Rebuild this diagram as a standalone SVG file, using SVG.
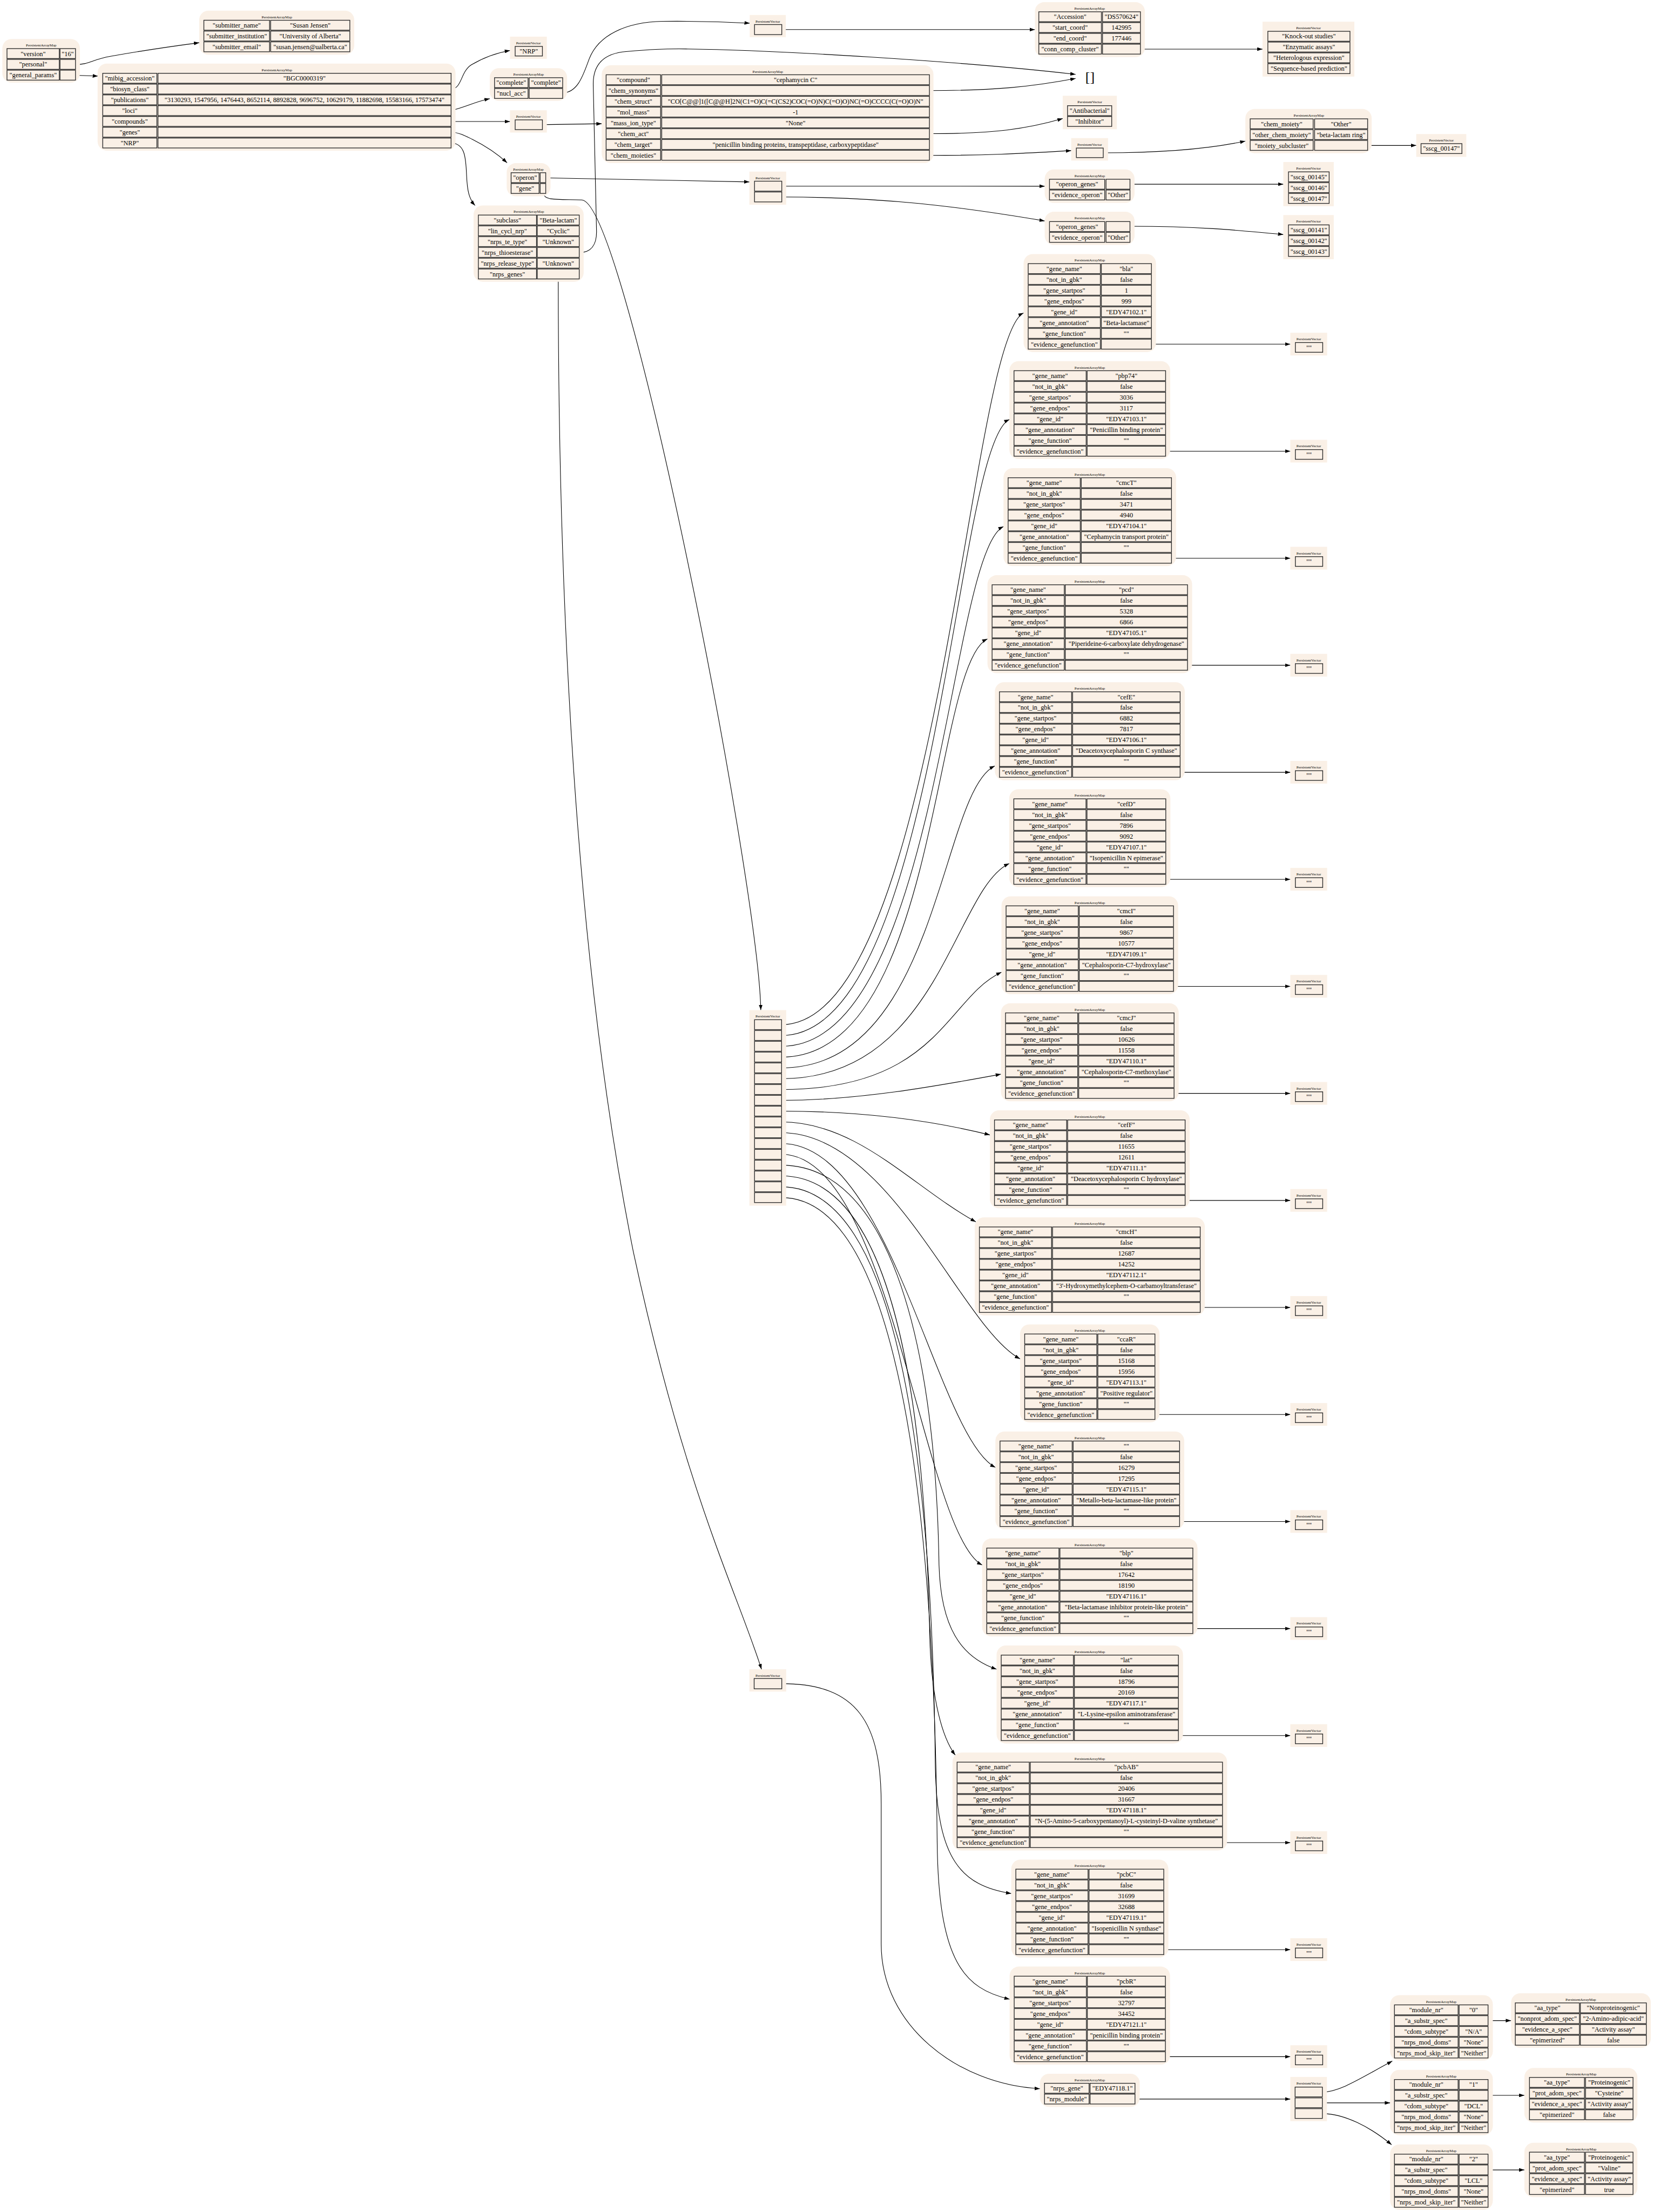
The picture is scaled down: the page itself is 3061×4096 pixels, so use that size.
<svg xmlns="http://www.w3.org/2000/svg" width="3061" height="4096" viewBox="0 0 3061 4096">
<style>
.nb{fill:#faf0e6}
.c{fill:#faf0e6;stroke:#2b2b2b;stroke-width:2}
.t{font-family:"Liberation Serif","Times New Roman",serif;font-size:18px;text-anchor:middle;fill:#000}
.h{font-family:"Liberation Serif","Times New Roman",serif;font-size:10.3px;text-anchor:middle;fill:#000}
.e{fill:none;stroke:#000;stroke-width:1.6;marker-end:url(#ah)}
.br{font-family:"Liberation Serif","Times New Roman",serif;font-size:38px;text-anchor:middle;fill:#000}
</style>
<defs>
<marker id="ah" markerUnits="userSpaceOnUse" viewBox="0 0 14.4 10" markerWidth="14.4" markerHeight="10" refX="14.4" refY="5" orient="auto"><path d="M0,0 L14.4,5 L0,10 z" fill="#000"/></marker>
</defs>
<rect width="3061" height="4096" fill="#fff"/>
<g transform="scale(0.6819)">

<g id="edges">
<path class="e" d="M205,175.5 C240,175.5 250,162 300,153 C400,135 480,124 541,116"/>
<path class="e" d="M205,204.6 L266,206.5"/>
<path class="e" d="M1225,242 C1255,241 1250,195 1280,176 C1310,158 1340,145 1385,137"/>
<path class="e" d="M1225,300 C1262,292 1290,276 1330,268"/>
<path class="e" d="M1225,330 L1385,330"/>
<path class="e" d="M1225,359 C1248,360 1262,368 1282,378 C1320,397 1350,417 1377,442"/>
<path class="e" d="M1225,388 C1262,390 1265,425 1267,475 C1269,520 1274,540 1290,558"/>
<path class="e" d="M1528,252 C1570,252 1585,200 1600,160 C1625,95 1700,60 1800,58 C1900,57 1980,60 2036,63"/>
<path class="e" d="M1573,686 C1605,686 1620,665 1620,630 L1611,230 C1610,175 1640,145 1700,140 C1760,135 1800,132 1868,133 C2100,136 2600,165 2921,202"/>
<path class="e" d="M1516,758 C1516,1600 1560,2600 1720,3400 C1860,4050 2000,4320 2068,4533"/>
<path class="e" d="M1482,483 C1700,487 1900,491 2035,494"/>
<path class="e" d="M1477,527 C1477,545 1520,541 1580,543 C1700,550 2060,2400 2066,2743"/>
<path class="e" d="M1473,338.5 L1634,336"/>
<path class="e" d="M2524,246 C2700,246 2800,236 2921,213"/>
<path class="e" d="M2524,363 C2700,363 2790,350 2886,322"/>
<path class="e" d="M2524,422 C2700,422 2800,415 2909,409"/>
<path class="e" d="M2123,80.4 L2810.5,80.4"/>
<path class="e" d="M3097,133.4 L3428.5,133.4"/>
<path class="e" d="M2996,415 C3150,415 3280,405 3382,383"/>
<path class="e" d="M3714,395 L3846,395"/>
<path class="e" d="M2123,505.5 L2837,505.7"/>
<path class="e" d="M2123,535 C2400,535 2600,560 2837,600"/>
<path class="e" d="M3068.6,500.2 L3485,500.2"/>
<path class="e" d="M3068.6,614.5 C3250,614.5 3350,624 3485,637"/>
<path class="e" d="M2122.5,2782.5 C2550,2782.5 2629.7,920 2779.7,850"/>
<path class="e" d="M2122.5,2811.9 C2550,2811.9 2591.2,1209 2741.2,1139"/>
<path class="e" d="M2122.5,2841.2 C2550,2841.2 2575.2,1500 2725.2,1430"/>
<path class="e" d="M2122.5,2870.6 C2550,2870.6 2531.7,1805 2681.7,1735"/>
<path class="e" d="M2122.5,2899.9 C2550,2899.9 2551.7,2150 2701.7,2080"/>
<path class="e" d="M2122.5,2929.3 C2550,2929.3 2590.7,2415 2740.7,2345"/>
<path class="e" d="M2122.5,2958.6 C2550,2958.6 2569.7,2710 2719.7,2640"/>
<path class="e" d="M2122.5,2988 C2330,2988 2540,2950 2718.2,2917"/>
<path class="e" d="M2122.5,3017.3 C2330,3017.3 2520,3040 2688.2,3082"/>
<path class="e" d="M2122.5,3046.7 C2330,3046.7 2480,3225 2650,3318"/>
<path class="e" d="M2122.5,3076 C2420,3076 2610.2,3605 2770.2,3690"/>
<path class="e" d="M2122.5,3105.4 C2420,3105.4 2543.2,3900 2703.2,3985"/>
<path class="e" d="M2122.5,3134.7 C2420,3134.7 2507.2,4165 2667.2,4250"/>
<path class="e" d="M2122.5,3164.1 C2400,3164.1 2540,3600 2550,4250 C2555,4420 2610,4500 2706.4,4533"/>
<path class="e" d="M2122.5,3193.4 C2400,3193.4 2510,3700 2525,4450 C2530,4620 2560,4720 2594,4766"/>
<path class="e" d="M2122.5,3222.8 C2400,3222.8 2530,3800 2540,4800 C2545,5050 2610,5120 2746.2,5142"/>
<path class="e" d="M2122.5,3252.1 C2400,3252.1 2535,3900 2545,5000 C2548,5330 2620,5400 2741.7,5429"/>
<path class="e" d="M3126.85,934.6 L3504,934.6"/>
<path class="e" d="M3165.35,1225.25 L3504,1225.25"/>
<path class="e" d="M3181.35,1515.9 L3504,1515.9"/>
<path class="e" d="M3224.85,1806.55 L3504,1806.55"/>
<path class="e" d="M3204.85,2097.2 L3504,2097.2"/>
<path class="e" d="M3165.85,2387.85 L3504,2387.85"/>
<path class="e" d="M3186.85,2678.5 L3504,2678.5"/>
<path class="e" d="M3188.35,2969.15 L3504,2969.15"/>
<path class="e" d="M3218.35,3259.8 L3504,3259.8"/>
<path class="e" d="M3259.35,3550.45 L3504,3550.45"/>
<path class="e" d="M3136.35,3841.1 L3504,3841.1"/>
<path class="e" d="M3203.35,4131.75 L3504,4131.75"/>
<path class="e" d="M3239.35,4422.4 L3504,4422.4"/>
<path class="e" d="M3200.1,4713.05 L3504,4713.05"/>
<path class="e" d="M3319.85,5003.7 L3504,5003.7"/>
<path class="e" d="M3160.35,5294.35 L3504,5294.35"/>
<path class="e" d="M3164.85,5585 L3504,5585"/>
<path class="e" d="M2123,4572 C2330,4572 2393,4680 2393,4900 L2393,5279 C2393,5500 2600,5660 2824,5672"/>
<path class="e" d="M3082.2,5700 L3504,5700"/>
<path class="e" d="M3591,5681 C3640,5681 3700,5640 3781,5597"/>
<path class="e" d="M3591,5710.3 L3775,5710.3"/>
<path class="e" d="M3591,5739.6 C3650,5739.6 3720,5775 3779,5824"/>
<path class="e" d="M4041,5487 L4103.5,5487"/>
<path class="e" d="M4041,5690 L4139.6,5690"/>
<path class="e" d="M4041,5892.5 L4139.6,5892.5"/>
</g>

<g id="root">
<rect class="nb" x="6.4" y="106" width="210.6" height="118.5" rx="25"/>
<text class="h" x="112" y="126.5">PersistentArrayMap</text>
<rect class="c" x="19" y="132" width="142" height="27"/><text class="t" x="90" y="151.8">"version"</text>
<rect class="c" x="163" y="132" width="42" height="27"/><text class="t" x="184" y="151.8">"16"</text>
<rect class="c" x="19" y="161.3" width="142" height="27"/><text class="t" x="90" y="181.1">"personal"</text>
<rect class="c" x="163" y="161.3" width="42" height="27"/>
<rect class="c" x="19" y="190.6" width="142" height="27"/><text class="t" x="90" y="210.4">"general_params"</text>
<rect class="c" x="163" y="190.6" width="42" height="27"/>
</g>

<g id="personal">
<rect class="nb" x="541" y="29" width="421" height="119.6" rx="25"/>
<text class="h" x="751.8" y="49.5">PersistentArrayMap</text>
<rect class="c" x="553.6" y="55" width="178.4" height="27"/><text class="t" x="642.8" y="74.8">"submitter_name"</text>
<rect class="c" x="735" y="55" width="215" height="27"/><text class="t" x="842.5" y="74.8">"Susan Jensen"</text>
<rect class="c" x="553.6" y="84.3" width="178.4" height="27"/><text class="t" x="642.8" y="104.1">"submitter_institution"</text>
<rect class="c" x="735" y="84.3" width="215" height="27"/><text class="t" x="842.5" y="104.1">"University of Alberta"</text>
<rect class="c" x="553.6" y="113.6" width="178.4" height="27"/><text class="t" x="642.8" y="133.4">"submitter_email"</text>
<rect class="c" x="735" y="113.6" width="215" height="27"/><text class="t" x="842.5" y="133.4">"susan.jensen@ualberta.ca"</text>
</g>

<g id="general_params">
<rect class="nb" x="265" y="172.7" width="972" height="236.3" rx="25"/>
<text class="h" x="752" y="193.2">PersistentArrayMap</text>
<rect class="c" x="279" y="199" width="147" height="27"/><text class="t" x="352.5" y="218.8">"mibig_accession"</text>
<rect class="c" x="429" y="199" width="796" height="27"/><text class="t" x="827" y="218.8">"BGC0000319"</text>
<rect class="c" x="279" y="228.3" width="147" height="27"/><text class="t" x="352.5" y="248.1">"biosyn_class"</text>
<rect class="c" x="429" y="228.3" width="796" height="27"/>
<rect class="c" x="279" y="257.6" width="147" height="27"/><text class="t" x="352.5" y="277.4">"publications"</text>
<rect class="c" x="429" y="257.6" width="796" height="27"/><text class="t" x="827" y="277.4">"3130293, 1547956, 1476443, 8652114, 8892828, 9696752, 10629179, 11882698, 15583166, 17573474"</text>
<rect class="c" x="279" y="286.9" width="147" height="27"/><text class="t" x="352.5" y="306.7">"loci"</text>
<rect class="c" x="429" y="286.9" width="796" height="27"/>
<rect class="c" x="279" y="316.2" width="147" height="27"/><text class="t" x="352.5" y="336">"compounds"</text>
<rect class="c" x="429" y="316.2" width="796" height="27"/>
<rect class="c" x="279" y="345.5" width="147" height="27"/><text class="t" x="352.5" y="365.3">"genes"</text>
<rect class="c" x="429" y="345.5" width="796" height="27"/>
<rect class="c" x="279" y="374.8" width="147" height="27"/><text class="t" x="352.5" y="394.6">"NRP"</text>
<rect class="c" x="429" y="374.8" width="796" height="27"/>
</g>

<g id="biosyn_class">
<rect class="nb" x="1385" y="99.5" width="100" height="60.5"/>
<text class="h" x="1435" y="120">PersistentVector</text>
<rect class="c" x="1399" y="126" width="74" height="26"/><text class="t" x="1436" y="145.3">"NRP"</text>
</g>

<g id="loci">
<rect class="nb" x="1330" y="185" width="210" height="89" rx="25"/>
<text class="h" x="1435.5" y="205.5">PersistentArrayMap</text>
<rect class="c" x="1343" y="211" width="91" height="27"/><text class="t" x="1388.5" y="230.8">"complete"</text>
<rect class="c" x="1437" y="211" width="91" height="27"/><text class="t" x="1482.5" y="230.8">"complete"</text>
<rect class="c" x="1343" y="240.3" width="91" height="27"/><text class="t" x="1388.5" y="260.1">"nucl_acc"</text>
<rect class="c" x="1437" y="240.3" width="91" height="27"/>
</g>

<g id="compounds_list">
<rect class="nb" x="1385" y="299.5" width="100" height="60.5"/>
<text class="h" x="1435" y="320">PersistentVector</text>
<rect class="c" x="1399" y="325.5" width="74" height="26.5"/>
</g>

<g id="genes">
<rect class="nb" x="1376" y="443" width="119" height="90" rx="25"/>
<text class="h" x="1435" y="463.5">PersistentArrayMap</text>
<rect class="c" x="1388" y="469" width="76" height="27"/><text class="t" x="1426" y="488.8">"operon"</text>
<rect class="c" x="1467" y="469" width="15" height="27"/>
<rect class="c" x="1388" y="498.3" width="76" height="27"/><text class="t" x="1426" y="518.1">"gene"</text>
<rect class="c" x="1467" y="498.3" width="15" height="27"/>
</g>

<g id="nrp">
<rect class="nb" x="1286" y="558" width="299" height="207" rx="25"/>
<text class="h" x="1436" y="578.5">PersistentArrayMap</text>
<rect class="c" x="1299" y="584" width="158" height="27"/><text class="t" x="1378" y="603.8">"subclass"</text>
<rect class="c" x="1459" y="584" width="114" height="27"/><text class="t" x="1516" y="603.8">"Beta-lactam"</text>
<rect class="c" x="1299" y="613.3" width="158" height="27"/><text class="t" x="1378" y="633.1">"lin_cycl_nrp"</text>
<rect class="c" x="1459" y="613.3" width="114" height="27"/><text class="t" x="1516" y="633.1">"Cyclic"</text>
<rect class="c" x="1299" y="642.6" width="158" height="27"/><text class="t" x="1378" y="662.4">"nrps_te_type"</text>
<rect class="c" x="1459" y="642.6" width="114" height="27"/><text class="t" x="1516" y="662.4">"Unknown"</text>
<rect class="c" x="1299" y="671.9" width="158" height="27"/><text class="t" x="1378" y="691.7">"nrps_thioesterase"</text>
<rect class="c" x="1459" y="671.9" width="114" height="27"/>
<rect class="c" x="1299" y="701.2" width="158" height="27"/><text class="t" x="1378" y="721">"nrps_release_type"</text>
<rect class="c" x="1459" y="701.2" width="114" height="27"/><text class="t" x="1516" y="721">"Unknown"</text>
<rect class="c" x="1299" y="730.5" width="158" height="27"/><text class="t" x="1378" y="750.3">"nrps_genes"</text>
<rect class="c" x="1459" y="730.5" width="114" height="27"/>
</g>

<g id="compound">
<rect class="nb" x="1634" y="177" width="901" height="266" rx="25"/>
<text class="h" x="2085" y="197.5">PersistentArrayMap</text>
<rect class="c" x="1646" y="203" width="148" height="27"/><text class="t" x="1720" y="222.8">"compound"</text>
<rect class="c" x="1797" y="203" width="727" height="27"/><text class="t" x="2160.5" y="222.8">"cephamycin C"</text>
<rect class="c" x="1646" y="232.3" width="148" height="27"/><text class="t" x="1720" y="252.1">"chem_synonyms"</text>
<rect class="c" x="1797" y="232.3" width="727" height="27"/>
<rect class="c" x="1646" y="261.6" width="148" height="27"/><text class="t" x="1720" y="281.4">"chem_struct"</text>
<rect class="c" x="1797" y="261.6" width="727" height="27"/><text class="t" x="2160.5" y="281.4">"CO[C@@]1([C@@H]2N(C1=O)C(=C(CS2)COC(=O)N)C(=O)O)NC(=O)CCCC(C(=O)O)N"</text>
<rect class="c" x="1646" y="290.9" width="148" height="27"/><text class="t" x="1720" y="310.7">"mol_mass"</text>
<rect class="c" x="1797" y="290.9" width="727" height="27"/><text class="t" x="2160.5" y="310.7">-1</text>
<rect class="c" x="1646" y="320.2" width="148" height="27"/><text class="t" x="1720" y="340">"mass_ion_type"</text>
<rect class="c" x="1797" y="320.2" width="727" height="27"/><text class="t" x="2160.5" y="340">"None"</text>
<rect class="c" x="1646" y="349.5" width="148" height="27"/><text class="t" x="1720" y="369.3">"chem_act"</text>
<rect class="c" x="1797" y="349.5" width="727" height="27"/>
<rect class="c" x="1646" y="378.8" width="148" height="27"/><text class="t" x="1720" y="398.6">"chem_target"</text>
<rect class="c" x="1797" y="378.8" width="727" height="27"/><text class="t" x="2160.5" y="398.6">"penicillin binding proteins, transpeptidase, carboxypeptidase"</text>
<rect class="c" x="1646" y="408.1" width="148" height="27"/><text class="t" x="1720" y="427.9">"chem_moieties"</text>
<rect class="c" x="1797" y="408.1" width="727" height="27"/>
</g>

<g id="loci_list">
<rect class="nb" x="2036" y="40.7" width="98" height="60.3"/>
<text class="h" x="2085" y="61.2">PersistentVector</text>
<rect class="c" x="2049" y="66.7" width="74" height="27.3"/>
</g>

<g id="accession">
<rect class="nb" x="2810.5" y="6" width="298.5" height="149" rx="25"/>
<text class="h" x="2959" y="26.5">PersistentArrayMap</text>
<rect class="c" x="2821" y="32" width="170" height="27"/><text class="t" x="2906" y="51.8">"Accession"</text>
<rect class="c" x="2994" y="32" width="103" height="27"/><text class="t" x="3045.5" y="51.8">"DS570624"</text>
<rect class="c" x="2821" y="61.3" width="170" height="27"/><text class="t" x="2906" y="81.1">"start_coord"</text>
<rect class="c" x="2994" y="61.3" width="103" height="27"/><text class="t" x="3045.5" y="81.1">142995</text>
<rect class="c" x="2821" y="90.6" width="170" height="27"/><text class="t" x="2906" y="110.4">"end_coord"</text>
<rect class="c" x="2994" y="90.6" width="103" height="27"/><text class="t" x="3045.5" y="110.4">177446</text>
<rect class="c" x="2821" y="119.9" width="170" height="27"/><text class="t" x="2906" y="139.7">"conn_comp_cluster"</text>
<rect class="c" x="2994" y="119.9" width="103" height="27"/>
</g>

<g id="loci_evidence">
<rect class="nb" x="3428.5" y="59" width="249.5" height="149"/>
<text class="h" x="3553.3" y="79.5">PersistentVector</text>
<rect class="c" x="3443" y="85" width="223" height="27"/><text class="t" x="3554.5" y="104.8">"Knock-out studies"</text>
<rect class="c" x="3443" y="114.3" width="223" height="27"/><text class="t" x="3554.5" y="134.1">"Enzymatic assays"</text>
<rect class="c" x="3443" y="143.6" width="223" height="27"/><text class="t" x="3554.5" y="163.4">"Heterologous expression"</text>
<rect class="c" x="3443" y="172.9" width="223" height="27"/><text class="t" x="3554.5" y="192.7">"Sequence-based prediction"</text>
</g>

<g id="empty_list">
<text class="br" x="2960" y="221">[]</text>
</g>

<g id="chem_act">
<rect class="nb" x="2886" y="260" width="147" height="91"/>
<text class="h" x="2959.5" y="280.5">PersistentVector</text>
<rect class="c" x="2899" y="287" width="120" height="27"/><text class="t" x="2959" y="306.8">"Antibacterial"</text>
<rect class="c" x="2899" y="316.3" width="120" height="27"/><text class="t" x="2959" y="336.1">"Inhibitor"</text>
</g>

<g id="chem_moieties">
<rect class="nb" x="2909" y="375" width="100" height="61"/>
<text class="h" x="2959" y="395.5">PersistentVector</text>
<rect class="c" x="2923" y="402" width="73" height="26"/>
</g>

<g id="chem_moiety">
<rect class="nb" x="3382" y="296" width="343" height="120" rx="25"/>
<text class="h" x="3554.5" y="316.5">PersistentArrayMap</text>
<rect class="c" x="3395" y="322.7" width="171" height="27"/><text class="t" x="3480.5" y="342.5">"chem_moiety"</text>
<rect class="c" x="3570" y="322.7" width="144" height="27"/><text class="t" x="3642" y="342.5">"Other"</text>
<rect class="c" x="3395" y="352" width="171" height="27"/><text class="t" x="3480.5" y="371.8">"other_chem_moiety"</text>
<rect class="c" x="3570" y="352" width="144" height="27"/><text class="t" x="3642" y="371.8">"beta-lactam ring"</text>
<rect class="c" x="3395" y="381.3" width="171" height="27"/><text class="t" x="3480.5" y="401.1">"moiety_subcluster"</text>
<rect class="c" x="3570" y="381.3" width="144" height="27"/>
</g>

<g id="moiety_subcluster">
<rect class="nb" x="3846" y="364" width="136" height="62"/>
<text class="h" x="3914" y="384.5">PersistentVector</text>
<rect class="c" x="3859" y="390" width="111" height="27"/><text class="t" x="3914.5" y="409.8">"sscg_00147"</text>
</g>

<g id="operon_list">
<rect class="nb" x="2035" y="466" width="100" height="90"/>
<text class="h" x="2085" y="486.5">PersistentVector</text>
<rect class="c" x="2049" y="492" width="74" height="27"/>
<rect class="c" x="2049" y="521.3" width="74" height="27"/>
</g>

<g id="operon1">
<rect class="nb" x="2837" y="460" width="244" height="91" rx="25"/>
<text class="h" x="2959.3" y="480.5">PersistentArrayMap</text>
<rect class="c" x="2850" y="486.7" width="150" height="27"/><text class="t" x="2925" y="506.5">"operon_genes"</text>
<rect class="c" x="3003.6" y="486.7" width="65" height="27"/>
<rect class="c" x="2850" y="516" width="150" height="27"/><text class="t" x="2925" y="535.8">"evidence_operon"</text>
<rect class="c" x="3003.6" y="516" width="65" height="27"/><text class="t" x="3036.1" y="535.8">"Other"</text>
</g>

<g id="operon2">
<rect class="nb" x="2837" y="575" width="244" height="90" rx="25"/>
<text class="h" x="2959.3" y="595.5">PersistentArrayMap</text>
<rect class="c" x="2850" y="601.7" width="150" height="27"/><text class="t" x="2925" y="621.5">"operon_genes"</text>
<rect class="c" x="3003.6" y="601.7" width="65" height="27"/>
<rect class="c" x="2850" y="631" width="150" height="27"/><text class="t" x="2925" y="650.8">"evidence_operon"</text>
<rect class="c" x="3003.6" y="631" width="65" height="27"/><text class="t" x="3036.1" y="650.8">"Other"</text>
</g>

<g id="operon_genes1">
<rect class="nb" x="3485" y="440" width="137" height="120"/>
<text class="h" x="3553.5" y="460.5">PersistentVector</text>
<rect class="c" x="3499" y="466.7" width="110.5" height="27"/><text class="t" x="3554.25" y="486.5">"sscg_00145"</text>
<rect class="c" x="3499" y="496" width="110.5" height="27"/><text class="t" x="3554.25" y="515.8">"sscg_00146"</text>
<rect class="c" x="3499" y="525.3" width="110.5" height="27"/><text class="t" x="3554.25" y="545.1">"sscg_00147"</text>
</g>

<g id="operon_genes2">
<rect class="nb" x="3485" y="584" width="137" height="120"/>
<text class="h" x="3553.5" y="604.5">PersistentVector</text>
<rect class="c" x="3499" y="610.7" width="110.5" height="27"/><text class="t" x="3554.25" y="630.5">"sscg_00141"</text>
<rect class="c" x="3499" y="640" width="110.5" height="27"/><text class="t" x="3554.25" y="659.8">"sscg_00142"</text>
<rect class="c" x="3499" y="669.3" width="110.5" height="27"/><text class="t" x="3554.25" y="689.1">"sscg_00143"</text>
</g>

<g id="gene_list">
<rect class="nb" x="2035" y="2743" width="100" height="531"/>
<text class="h" x="2085" y="2763.5">PersistentVector</text>
<rect class="c" x="2049" y="2769" width="73.5" height="27"/>
<rect class="c" x="2049" y="2798.35" width="73.5" height="27"/>
<rect class="c" x="2049" y="2827.7" width="73.5" height="27"/>
<rect class="c" x="2049" y="2857.05" width="73.5" height="27"/>
<rect class="c" x="2049" y="2886.4" width="73.5" height="27"/>
<rect class="c" x="2049" y="2915.75" width="73.5" height="27"/>
<rect class="c" x="2049" y="2945.1" width="73.5" height="27"/>
<rect class="c" x="2049" y="2974.45" width="73.5" height="27"/>
<rect class="c" x="2049" y="3003.8" width="73.5" height="27"/>
<rect class="c" x="2049" y="3033.15" width="73.5" height="27"/>
<rect class="c" x="2049" y="3062.5" width="73.5" height="27"/>
<rect class="c" x="2049" y="3091.85" width="73.5" height="27"/>
<rect class="c" x="2049" y="3121.2" width="73.5" height="27"/>
<rect class="c" x="2049" y="3150.55" width="73.5" height="27"/>
<rect class="c" x="2049" y="3179.9" width="73.5" height="27"/>
<rect class="c" x="2049" y="3209.25" width="73.5" height="27"/>
<rect class="c" x="2049" y="3238.6" width="73.5" height="27"/>
</g>

<g id="gene_bla" transform="translate(0,690)">
<rect class="nb" x="2779.65" width="359.7" height="266" rx="25"/>
<text class="h" x="2959.5" y="20.5">PersistentArrayMap</text>
<rect class="c" x="2792.15" y="26" width="196" height="27"/><text class="t" x="2890.15" y="45.8">"gene_name"</text>
<rect class="c" x="2990.85" y="26" width="136" height="27"/><text class="t" x="3058.85" y="45.8">"bla"</text>
<rect class="c" x="2792.15" y="55.3" width="196" height="27"/><text class="t" x="2890.15" y="75.1">"not_in_gbk"</text>
<rect class="c" x="2990.85" y="55.3" width="136" height="27"/><text class="t" x="3058.85" y="75.1">false</text>
<rect class="c" x="2792.15" y="84.6" width="196" height="27"/><text class="t" x="2890.15" y="104.4">"gene_startpos"</text>
<rect class="c" x="2990.85" y="84.6" width="136" height="27"/><text class="t" x="3058.85" y="104.4">1</text>
<rect class="c" x="2792.15" y="113.9" width="196" height="27"/><text class="t" x="2890.15" y="133.7">"gene_endpos"</text>
<rect class="c" x="2990.85" y="113.9" width="136" height="27"/><text class="t" x="3058.85" y="133.7">999</text>
<rect class="c" x="2792.15" y="143.2" width="196" height="27"/><text class="t" x="2890.15" y="163">"gene_id"</text>
<rect class="c" x="2990.85" y="143.2" width="136" height="27"/><text class="t" x="3058.85" y="163">"EDY47102.1"</text>
<rect class="c" x="2792.15" y="172.5" width="196" height="27"/><text class="t" x="2890.15" y="192.3">"gene_annotation"</text>
<rect class="c" x="2990.85" y="172.5" width="136" height="27"/><text class="t" x="3058.85" y="192.3">"Beta-lactamase"</text>
<rect class="c" x="2792.15" y="201.8" width="196" height="27"/><text class="t" x="2890.15" y="221.6">"gene_function"</text>
<rect class="c" x="2990.85" y="201.8" width="136" height="27"/><text class="t" x="3058.85" y="221.6">""</text>
<rect class="c" x="2792.15" y="231.1" width="196" height="27"/><text class="t" x="2890.15" y="250.9">"evidence_genefunction"</text>
<rect class="c" x="2990.85" y="231.1" width="136" height="27"/>
</g>

<g id="gene_pbp74" transform="translate(0,980.65)">
<rect class="nb" x="2741.15" width="436.7" height="266" rx="25"/>
<text class="h" x="2959.5" y="20.5">PersistentArrayMap</text>
<rect class="c" x="2753.65" y="26" width="196" height="27"/><text class="t" x="2851.65" y="45.8">"gene_name"</text>
<rect class="c" x="2952.35" y="26" width="213" height="27"/><text class="t" x="3058.85" y="45.8">"pbp74"</text>
<rect class="c" x="2753.65" y="55.3" width="196" height="27"/><text class="t" x="2851.65" y="75.1">"not_in_gbk"</text>
<rect class="c" x="2952.35" y="55.3" width="213" height="27"/><text class="t" x="3058.85" y="75.1">false</text>
<rect class="c" x="2753.65" y="84.6" width="196" height="27"/><text class="t" x="2851.65" y="104.4">"gene_startpos"</text>
<rect class="c" x="2952.35" y="84.6" width="213" height="27"/><text class="t" x="3058.85" y="104.4">3036</text>
<rect class="c" x="2753.65" y="113.9" width="196" height="27"/><text class="t" x="2851.65" y="133.7">"gene_endpos"</text>
<rect class="c" x="2952.35" y="113.9" width="213" height="27"/><text class="t" x="3058.85" y="133.7">3117</text>
<rect class="c" x="2753.65" y="143.2" width="196" height="27"/><text class="t" x="2851.65" y="163">"gene_id"</text>
<rect class="c" x="2952.35" y="143.2" width="213" height="27"/><text class="t" x="3058.85" y="163">"EDY47103.1"</text>
<rect class="c" x="2753.65" y="172.5" width="196" height="27"/><text class="t" x="2851.65" y="192.3">"gene_annotation"</text>
<rect class="c" x="2952.35" y="172.5" width="213" height="27"/><text class="t" x="3058.85" y="192.3">"Penicillin binding protein"</text>
<rect class="c" x="2753.65" y="201.8" width="196" height="27"/><text class="t" x="2851.65" y="221.6">"gene_function"</text>
<rect class="c" x="2952.35" y="201.8" width="213" height="27"/><text class="t" x="3058.85" y="221.6">""</text>
<rect class="c" x="2753.65" y="231.1" width="196" height="27"/><text class="t" x="2851.65" y="250.9">"evidence_genefunction"</text>
<rect class="c" x="2952.35" y="231.1" width="213" height="27"/>
</g>

<g id="gene_cmcT" transform="translate(0,1271.3)">
<rect class="nb" x="2725.15" width="468.7" height="266" rx="25"/>
<text class="h" x="2959.5" y="20.5">PersistentArrayMap</text>
<rect class="c" x="2737.65" y="26" width="196" height="27"/><text class="t" x="2835.65" y="45.8">"gene_name"</text>
<rect class="c" x="2936.35" y="26" width="245" height="27"/><text class="t" x="3058.85" y="45.8">"cmcT"</text>
<rect class="c" x="2737.65" y="55.3" width="196" height="27"/><text class="t" x="2835.65" y="75.1">"not_in_gbk"</text>
<rect class="c" x="2936.35" y="55.3" width="245" height="27"/><text class="t" x="3058.85" y="75.1">false</text>
<rect class="c" x="2737.65" y="84.6" width="196" height="27"/><text class="t" x="2835.65" y="104.4">"gene_startpos"</text>
<rect class="c" x="2936.35" y="84.6" width="245" height="27"/><text class="t" x="3058.85" y="104.4">3471</text>
<rect class="c" x="2737.65" y="113.9" width="196" height="27"/><text class="t" x="2835.65" y="133.7">"gene_endpos"</text>
<rect class="c" x="2936.35" y="113.9" width="245" height="27"/><text class="t" x="3058.85" y="133.7">4940</text>
<rect class="c" x="2737.65" y="143.2" width="196" height="27"/><text class="t" x="2835.65" y="163">"gene_id"</text>
<rect class="c" x="2936.35" y="143.2" width="245" height="27"/><text class="t" x="3058.85" y="163">"EDY47104.1"</text>
<rect class="c" x="2737.65" y="172.5" width="196" height="27"/><text class="t" x="2835.65" y="192.3">"gene_annotation"</text>
<rect class="c" x="2936.35" y="172.5" width="245" height="27"/><text class="t" x="3058.85" y="192.3">"Cephamycin transport protein"</text>
<rect class="c" x="2737.65" y="201.8" width="196" height="27"/><text class="t" x="2835.65" y="221.6">"gene_function"</text>
<rect class="c" x="2936.35" y="201.8" width="245" height="27"/><text class="t" x="3058.85" y="221.6">""</text>
<rect class="c" x="2737.65" y="231.1" width="196" height="27"/><text class="t" x="2835.65" y="250.9">"evidence_genefunction"</text>
<rect class="c" x="2936.35" y="231.1" width="245" height="27"/>
</g>

<g id="gene_pcd" transform="translate(0,1561.95)">
<rect class="nb" x="2681.65" width="555.7" height="266" rx="25"/>
<text class="h" x="2959.5" y="20.5">PersistentArrayMap</text>
<rect class="c" x="2694.15" y="26" width="196" height="27"/><text class="t" x="2792.15" y="45.8">"gene_name"</text>
<rect class="c" x="2892.85" y="26" width="332" height="27"/><text class="t" x="3058.85" y="45.8">"pcd"</text>
<rect class="c" x="2694.15" y="55.3" width="196" height="27"/><text class="t" x="2792.15" y="75.1">"not_in_gbk"</text>
<rect class="c" x="2892.85" y="55.3" width="332" height="27"/><text class="t" x="3058.85" y="75.1">false</text>
<rect class="c" x="2694.15" y="84.6" width="196" height="27"/><text class="t" x="2792.15" y="104.4">"gene_startpos"</text>
<rect class="c" x="2892.85" y="84.6" width="332" height="27"/><text class="t" x="3058.85" y="104.4">5328</text>
<rect class="c" x="2694.15" y="113.9" width="196" height="27"/><text class="t" x="2792.15" y="133.7">"gene_endpos"</text>
<rect class="c" x="2892.85" y="113.9" width="332" height="27"/><text class="t" x="3058.85" y="133.7">6866</text>
<rect class="c" x="2694.15" y="143.2" width="196" height="27"/><text class="t" x="2792.15" y="163">"gene_id"</text>
<rect class="c" x="2892.85" y="143.2" width="332" height="27"/><text class="t" x="3058.85" y="163">"EDY47105.1"</text>
<rect class="c" x="2694.15" y="172.5" width="196" height="27"/><text class="t" x="2792.15" y="192.3">"gene_annotation"</text>
<rect class="c" x="2892.85" y="172.5" width="332" height="27"/><text class="t" x="3058.85" y="192.3">"Piperideine-6-carboxylate dehydrogenase"</text>
<rect class="c" x="2694.15" y="201.8" width="196" height="27"/><text class="t" x="2792.15" y="221.6">"gene_function"</text>
<rect class="c" x="2892.85" y="201.8" width="332" height="27"/><text class="t" x="3058.85" y="221.6">""</text>
<rect class="c" x="2694.15" y="231.1" width="196" height="27"/><text class="t" x="2792.15" y="250.9">"evidence_genefunction"</text>
<rect class="c" x="2892.85" y="231.1" width="332" height="27"/>
</g>

<g id="gene_cefE" transform="translate(0,1852.6)">
<rect class="nb" x="2701.65" width="515.7" height="266" rx="25"/>
<text class="h" x="2959.5" y="20.5">PersistentArrayMap</text>
<rect class="c" x="2714.15" y="26" width="196" height="27"/><text class="t" x="2812.15" y="45.8">"gene_name"</text>
<rect class="c" x="2912.85" y="26" width="292" height="27"/><text class="t" x="3058.85" y="45.8">"cefE"</text>
<rect class="c" x="2714.15" y="55.3" width="196" height="27"/><text class="t" x="2812.15" y="75.1">"not_in_gbk"</text>
<rect class="c" x="2912.85" y="55.3" width="292" height="27"/><text class="t" x="3058.85" y="75.1">false</text>
<rect class="c" x="2714.15" y="84.6" width="196" height="27"/><text class="t" x="2812.15" y="104.4">"gene_startpos"</text>
<rect class="c" x="2912.85" y="84.6" width="292" height="27"/><text class="t" x="3058.85" y="104.4">6882</text>
<rect class="c" x="2714.15" y="113.9" width="196" height="27"/><text class="t" x="2812.15" y="133.7">"gene_endpos"</text>
<rect class="c" x="2912.85" y="113.9" width="292" height="27"/><text class="t" x="3058.85" y="133.7">7817</text>
<rect class="c" x="2714.15" y="143.2" width="196" height="27"/><text class="t" x="2812.15" y="163">"gene_id"</text>
<rect class="c" x="2912.85" y="143.2" width="292" height="27"/><text class="t" x="3058.85" y="163">"EDY47106.1"</text>
<rect class="c" x="2714.15" y="172.5" width="196" height="27"/><text class="t" x="2812.15" y="192.3">"gene_annotation"</text>
<rect class="c" x="2912.85" y="172.5" width="292" height="27"/><text class="t" x="3058.85" y="192.3">"Deacetoxycephalosporin C synthase"</text>
<rect class="c" x="2714.15" y="201.8" width="196" height="27"/><text class="t" x="2812.15" y="221.6">"gene_function"</text>
<rect class="c" x="2912.85" y="201.8" width="292" height="27"/><text class="t" x="3058.85" y="221.6">""</text>
<rect class="c" x="2714.15" y="231.1" width="196" height="27"/><text class="t" x="2812.15" y="250.9">"evidence_genefunction"</text>
<rect class="c" x="2912.85" y="231.1" width="292" height="27"/>
</g>

<g id="gene_cefD" transform="translate(0,2143.25)">
<rect class="nb" x="2740.65" width="437.7" height="266" rx="25"/>
<text class="h" x="2959.5" y="20.5">PersistentArrayMap</text>
<rect class="c" x="2753.15" y="26" width="196" height="27"/><text class="t" x="2851.15" y="45.8">"gene_name"</text>
<rect class="c" x="2951.85" y="26" width="214" height="27"/><text class="t" x="3058.85" y="45.8">"cefD"</text>
<rect class="c" x="2753.15" y="55.3" width="196" height="27"/><text class="t" x="2851.15" y="75.1">"not_in_gbk"</text>
<rect class="c" x="2951.85" y="55.3" width="214" height="27"/><text class="t" x="3058.85" y="75.1">false</text>
<rect class="c" x="2753.15" y="84.6" width="196" height="27"/><text class="t" x="2851.15" y="104.4">"gene_startpos"</text>
<rect class="c" x="2951.85" y="84.6" width="214" height="27"/><text class="t" x="3058.85" y="104.4">7896</text>
<rect class="c" x="2753.15" y="113.9" width="196" height="27"/><text class="t" x="2851.15" y="133.7">"gene_endpos"</text>
<rect class="c" x="2951.85" y="113.9" width="214" height="27"/><text class="t" x="3058.85" y="133.7">9092</text>
<rect class="c" x="2753.15" y="143.2" width="196" height="27"/><text class="t" x="2851.15" y="163">"gene_id"</text>
<rect class="c" x="2951.85" y="143.2" width="214" height="27"/><text class="t" x="3058.85" y="163">"EDY47107.1"</text>
<rect class="c" x="2753.15" y="172.5" width="196" height="27"/><text class="t" x="2851.15" y="192.3">"gene_annotation"</text>
<rect class="c" x="2951.85" y="172.5" width="214" height="27"/><text class="t" x="3058.85" y="192.3">"Isopenicillin N epimerase"</text>
<rect class="c" x="2753.15" y="201.8" width="196" height="27"/><text class="t" x="2851.15" y="221.6">"gene_function"</text>
<rect class="c" x="2951.85" y="201.8" width="214" height="27"/><text class="t" x="3058.85" y="221.6">""</text>
<rect class="c" x="2753.15" y="231.1" width="196" height="27"/><text class="t" x="2851.15" y="250.9">"evidence_genefunction"</text>
<rect class="c" x="2951.85" y="231.1" width="214" height="27"/>
</g>

<g id="gene_cmcI" transform="translate(0,2433.9)">
<rect class="nb" x="2719.65" width="479.7" height="266" rx="25"/>
<text class="h" x="2959.5" y="20.5">PersistentArrayMap</text>
<rect class="c" x="2732.15" y="26" width="196" height="27"/><text class="t" x="2830.15" y="45.8">"gene_name"</text>
<rect class="c" x="2930.85" y="26" width="256" height="27"/><text class="t" x="3058.85" y="45.8">"cmcI"</text>
<rect class="c" x="2732.15" y="55.3" width="196" height="27"/><text class="t" x="2830.15" y="75.1">"not_in_gbk"</text>
<rect class="c" x="2930.85" y="55.3" width="256" height="27"/><text class="t" x="3058.85" y="75.1">false</text>
<rect class="c" x="2732.15" y="84.6" width="196" height="27"/><text class="t" x="2830.15" y="104.4">"gene_startpos"</text>
<rect class="c" x="2930.85" y="84.6" width="256" height="27"/><text class="t" x="3058.85" y="104.4">9867</text>
<rect class="c" x="2732.15" y="113.9" width="196" height="27"/><text class="t" x="2830.15" y="133.7">"gene_endpos"</text>
<rect class="c" x="2930.85" y="113.9" width="256" height="27"/><text class="t" x="3058.85" y="133.7">10577</text>
<rect class="c" x="2732.15" y="143.2" width="196" height="27"/><text class="t" x="2830.15" y="163">"gene_id"</text>
<rect class="c" x="2930.85" y="143.2" width="256" height="27"/><text class="t" x="3058.85" y="163">"EDY47109.1"</text>
<rect class="c" x="2732.15" y="172.5" width="196" height="27"/><text class="t" x="2830.15" y="192.3">"gene_annotation"</text>
<rect class="c" x="2930.85" y="172.5" width="256" height="27"/><text class="t" x="3058.85" y="192.3">"Cephalosporin-C7-hydroxylase"</text>
<rect class="c" x="2732.15" y="201.8" width="196" height="27"/><text class="t" x="2830.15" y="221.6">"gene_function"</text>
<rect class="c" x="2930.85" y="201.8" width="256" height="27"/><text class="t" x="3058.85" y="221.6">""</text>
<rect class="c" x="2732.15" y="231.1" width="196" height="27"/><text class="t" x="2830.15" y="250.9">"evidence_genefunction"</text>
<rect class="c" x="2930.85" y="231.1" width="256" height="27"/>
</g>

<g id="gene_cmcJ" transform="translate(0,2724.55)">
<rect class="nb" x="2718.15" width="482.7" height="266" rx="25"/>
<text class="h" x="2959.5" y="20.5">PersistentArrayMap</text>
<rect class="c" x="2730.65" y="26" width="196" height="27"/><text class="t" x="2828.65" y="45.8">"gene_name"</text>
<rect class="c" x="2929.35" y="26" width="259" height="27"/><text class="t" x="3058.85" y="45.8">"cmcJ"</text>
<rect class="c" x="2730.65" y="55.3" width="196" height="27"/><text class="t" x="2828.65" y="75.1">"not_in_gbk"</text>
<rect class="c" x="2929.35" y="55.3" width="259" height="27"/><text class="t" x="3058.85" y="75.1">false</text>
<rect class="c" x="2730.65" y="84.6" width="196" height="27"/><text class="t" x="2828.65" y="104.4">"gene_startpos"</text>
<rect class="c" x="2929.35" y="84.6" width="259" height="27"/><text class="t" x="3058.85" y="104.4">10626</text>
<rect class="c" x="2730.65" y="113.9" width="196" height="27"/><text class="t" x="2828.65" y="133.7">"gene_endpos"</text>
<rect class="c" x="2929.35" y="113.9" width="259" height="27"/><text class="t" x="3058.85" y="133.7">11558</text>
<rect class="c" x="2730.65" y="143.2" width="196" height="27"/><text class="t" x="2828.65" y="163">"gene_id"</text>
<rect class="c" x="2929.35" y="143.2" width="259" height="27"/><text class="t" x="3058.85" y="163">"EDY47110.1"</text>
<rect class="c" x="2730.65" y="172.5" width="196" height="27"/><text class="t" x="2828.65" y="192.3">"gene_annotation"</text>
<rect class="c" x="2929.35" y="172.5" width="259" height="27"/><text class="t" x="3058.85" y="192.3">"Cephalosporin-C7-methoxylase"</text>
<rect class="c" x="2730.65" y="201.8" width="196" height="27"/><text class="t" x="2828.65" y="221.6">"gene_function"</text>
<rect class="c" x="2929.35" y="201.8" width="259" height="27"/><text class="t" x="3058.85" y="221.6">""</text>
<rect class="c" x="2730.65" y="231.1" width="196" height="27"/><text class="t" x="2828.65" y="250.9">"evidence_genefunction"</text>
<rect class="c" x="2929.35" y="231.1" width="259" height="27"/>
</g>

<g id="gene_cefF" transform="translate(0,3015.2)">
<rect class="nb" x="2688.15" width="542.7" height="266" rx="25"/>
<text class="h" x="2959.5" y="20.5">PersistentArrayMap</text>
<rect class="c" x="2700.65" y="26" width="196" height="27"/><text class="t" x="2798.65" y="45.8">"gene_name"</text>
<rect class="c" x="2899.35" y="26" width="319" height="27"/><text class="t" x="3058.85" y="45.8">"cefF"</text>
<rect class="c" x="2700.65" y="55.3" width="196" height="27"/><text class="t" x="2798.65" y="75.1">"not_in_gbk"</text>
<rect class="c" x="2899.35" y="55.3" width="319" height="27"/><text class="t" x="3058.85" y="75.1">false</text>
<rect class="c" x="2700.65" y="84.6" width="196" height="27"/><text class="t" x="2798.65" y="104.4">"gene_startpos"</text>
<rect class="c" x="2899.35" y="84.6" width="319" height="27"/><text class="t" x="3058.85" y="104.4">11655</text>
<rect class="c" x="2700.65" y="113.9" width="196" height="27"/><text class="t" x="2798.65" y="133.7">"gene_endpos"</text>
<rect class="c" x="2899.35" y="113.9" width="319" height="27"/><text class="t" x="3058.85" y="133.7">12611</text>
<rect class="c" x="2700.65" y="143.2" width="196" height="27"/><text class="t" x="2798.65" y="163">"gene_id"</text>
<rect class="c" x="2899.35" y="143.2" width="319" height="27"/><text class="t" x="3058.85" y="163">"EDY47111.1"</text>
<rect class="c" x="2700.65" y="172.5" width="196" height="27"/><text class="t" x="2798.65" y="192.3">"gene_annotation"</text>
<rect class="c" x="2899.35" y="172.5" width="319" height="27"/><text class="t" x="3058.85" y="192.3">"Deacetoxycephalosporin C hydroxylase"</text>
<rect class="c" x="2700.65" y="201.8" width="196" height="27"/><text class="t" x="2798.65" y="221.6">"gene_function"</text>
<rect class="c" x="2899.35" y="201.8" width="319" height="27"/><text class="t" x="3058.85" y="221.6">""</text>
<rect class="c" x="2700.65" y="231.1" width="196" height="27"/><text class="t" x="2798.65" y="250.9">"evidence_genefunction"</text>
<rect class="c" x="2899.35" y="231.1" width="319" height="27"/>
</g>

<g id="gene_cmcH" transform="translate(0,3305.85)">
<rect class="nb" x="2647.15" width="624.7" height="266" rx="25"/>
<text class="h" x="2959.5" y="20.5">PersistentArrayMap</text>
<rect class="c" x="2659.65" y="26" width="196" height="27"/><text class="t" x="2757.65" y="45.8">"gene_name"</text>
<rect class="c" x="2858.35" y="26" width="401" height="27"/><text class="t" x="3058.85" y="45.8">"cmcH"</text>
<rect class="c" x="2659.65" y="55.3" width="196" height="27"/><text class="t" x="2757.65" y="75.1">"not_in_gbk"</text>
<rect class="c" x="2858.35" y="55.3" width="401" height="27"/><text class="t" x="3058.85" y="75.1">false</text>
<rect class="c" x="2659.65" y="84.6" width="196" height="27"/><text class="t" x="2757.65" y="104.4">"gene_startpos"</text>
<rect class="c" x="2858.35" y="84.6" width="401" height="27"/><text class="t" x="3058.85" y="104.4">12687</text>
<rect class="c" x="2659.65" y="113.9" width="196" height="27"/><text class="t" x="2757.65" y="133.7">"gene_endpos"</text>
<rect class="c" x="2858.35" y="113.9" width="401" height="27"/><text class="t" x="3058.85" y="133.7">14252</text>
<rect class="c" x="2659.65" y="143.2" width="196" height="27"/><text class="t" x="2757.65" y="163">"gene_id"</text>
<rect class="c" x="2858.35" y="143.2" width="401" height="27"/><text class="t" x="3058.85" y="163">"EDY47112.1"</text>
<rect class="c" x="2659.65" y="172.5" width="196" height="27"/><text class="t" x="2757.65" y="192.3">"gene_annotation"</text>
<rect class="c" x="2858.35" y="172.5" width="401" height="27"/><text class="t" x="3058.85" y="192.3">"3'-Hydroxymethylcephem-O-carbamoyltransferase"</text>
<rect class="c" x="2659.65" y="201.8" width="196" height="27"/><text class="t" x="2757.65" y="221.6">"gene_function"</text>
<rect class="c" x="2858.35" y="201.8" width="401" height="27"/><text class="t" x="3058.85" y="221.6">""</text>
<rect class="c" x="2659.65" y="231.1" width="196" height="27"/><text class="t" x="2757.65" y="250.9">"evidence_genefunction"</text>
<rect class="c" x="2858.35" y="231.1" width="401" height="27"/>
</g>

<g id="gene_ccaR" transform="translate(0,3596.5)">
<rect class="nb" x="2770.15" width="378.7" height="266" rx="25"/>
<text class="h" x="2959.5" y="20.5">PersistentArrayMap</text>
<rect class="c" x="2782.65" y="26" width="196" height="27"/><text class="t" x="2880.65" y="45.8">"gene_name"</text>
<rect class="c" x="2981.35" y="26" width="155" height="27"/><text class="t" x="3058.85" y="45.8">"ccaR"</text>
<rect class="c" x="2782.65" y="55.3" width="196" height="27"/><text class="t" x="2880.65" y="75.1">"not_in_gbk"</text>
<rect class="c" x="2981.35" y="55.3" width="155" height="27"/><text class="t" x="3058.85" y="75.1">false</text>
<rect class="c" x="2782.65" y="84.6" width="196" height="27"/><text class="t" x="2880.65" y="104.4">"gene_startpos"</text>
<rect class="c" x="2981.35" y="84.6" width="155" height="27"/><text class="t" x="3058.85" y="104.4">15168</text>
<rect class="c" x="2782.65" y="113.9" width="196" height="27"/><text class="t" x="2880.65" y="133.7">"gene_endpos"</text>
<rect class="c" x="2981.35" y="113.9" width="155" height="27"/><text class="t" x="3058.85" y="133.7">15956</text>
<rect class="c" x="2782.65" y="143.2" width="196" height="27"/><text class="t" x="2880.65" y="163">"gene_id"</text>
<rect class="c" x="2981.35" y="143.2" width="155" height="27"/><text class="t" x="3058.85" y="163">"EDY47113.1"</text>
<rect class="c" x="2782.65" y="172.5" width="196" height="27"/><text class="t" x="2880.65" y="192.3">"gene_annotation"</text>
<rect class="c" x="2981.35" y="172.5" width="155" height="27"/><text class="t" x="3058.85" y="192.3">"Positive regulator"</text>
<rect class="c" x="2782.65" y="201.8" width="196" height="27"/><text class="t" x="2880.65" y="221.6">"gene_function"</text>
<rect class="c" x="2981.35" y="201.8" width="155" height="27"/><text class="t" x="3058.85" y="221.6">""</text>
<rect class="c" x="2782.65" y="231.1" width="196" height="27"/><text class="t" x="2880.65" y="250.9">"evidence_genefunction"</text>
<rect class="c" x="2981.35" y="231.1" width="155" height="27"/>
</g>

<g id="gene_unnamed" transform="translate(0,3887.15)">
<rect class="nb" x="2703.15" width="512.7" height="266" rx="25"/>
<text class="h" x="2959.5" y="20.5">PersistentArrayMap</text>
<rect class="c" x="2715.65" y="26" width="196" height="27"/><text class="t" x="2813.65" y="45.8">"gene_name"</text>
<rect class="c" x="2914.35" y="26" width="289" height="27"/><text class="t" x="3058.85" y="45.8">""</text>
<rect class="c" x="2715.65" y="55.3" width="196" height="27"/><text class="t" x="2813.65" y="75.1">"not_in_gbk"</text>
<rect class="c" x="2914.35" y="55.3" width="289" height="27"/><text class="t" x="3058.85" y="75.1">false</text>
<rect class="c" x="2715.65" y="84.6" width="196" height="27"/><text class="t" x="2813.65" y="104.4">"gene_startpos"</text>
<rect class="c" x="2914.35" y="84.6" width="289" height="27"/><text class="t" x="3058.85" y="104.4">16279</text>
<rect class="c" x="2715.65" y="113.9" width="196" height="27"/><text class="t" x="2813.65" y="133.7">"gene_endpos"</text>
<rect class="c" x="2914.35" y="113.9" width="289" height="27"/><text class="t" x="3058.85" y="133.7">17295</text>
<rect class="c" x="2715.65" y="143.2" width="196" height="27"/><text class="t" x="2813.65" y="163">"gene_id"</text>
<rect class="c" x="2914.35" y="143.2" width="289" height="27"/><text class="t" x="3058.85" y="163">"EDY47115.1"</text>
<rect class="c" x="2715.65" y="172.5" width="196" height="27"/><text class="t" x="2813.65" y="192.3">"gene_annotation"</text>
<rect class="c" x="2914.35" y="172.5" width="289" height="27"/><text class="t" x="3058.85" y="192.3">"Metallo-beta-lactamase-like protein"</text>
<rect class="c" x="2715.65" y="201.8" width="196" height="27"/><text class="t" x="2813.65" y="221.6">"gene_function"</text>
<rect class="c" x="2914.35" y="201.8" width="289" height="27"/><text class="t" x="3058.85" y="221.6">""</text>
<rect class="c" x="2715.65" y="231.1" width="196" height="27"/><text class="t" x="2813.65" y="250.9">"evidence_genefunction"</text>
<rect class="c" x="2914.35" y="231.1" width="289" height="27"/>
</g>

<g id="gene_blp" transform="translate(0,4177.8)">
<rect class="nb" x="2667.15" width="584.7" height="266" rx="25"/>
<text class="h" x="2959.5" y="20.5">PersistentArrayMap</text>
<rect class="c" x="2679.65" y="26" width="196" height="27"/><text class="t" x="2777.65" y="45.8">"gene_name"</text>
<rect class="c" x="2878.35" y="26" width="361" height="27"/><text class="t" x="3058.85" y="45.8">"blp"</text>
<rect class="c" x="2679.65" y="55.3" width="196" height="27"/><text class="t" x="2777.65" y="75.1">"not_in_gbk"</text>
<rect class="c" x="2878.35" y="55.3" width="361" height="27"/><text class="t" x="3058.85" y="75.1">false</text>
<rect class="c" x="2679.65" y="84.6" width="196" height="27"/><text class="t" x="2777.65" y="104.4">"gene_startpos"</text>
<rect class="c" x="2878.35" y="84.6" width="361" height="27"/><text class="t" x="3058.85" y="104.4">17642</text>
<rect class="c" x="2679.65" y="113.9" width="196" height="27"/><text class="t" x="2777.65" y="133.7">"gene_endpos"</text>
<rect class="c" x="2878.35" y="113.9" width="361" height="27"/><text class="t" x="3058.85" y="133.7">18190</text>
<rect class="c" x="2679.65" y="143.2" width="196" height="27"/><text class="t" x="2777.65" y="163">"gene_id"</text>
<rect class="c" x="2878.35" y="143.2" width="361" height="27"/><text class="t" x="3058.85" y="163">"EDY47116.1"</text>
<rect class="c" x="2679.65" y="172.5" width="196" height="27"/><text class="t" x="2777.65" y="192.3">"gene_annotation"</text>
<rect class="c" x="2878.35" y="172.5" width="361" height="27"/><text class="t" x="3058.85" y="192.3">"Beta-lactamase inhibitor protein-like protein"</text>
<rect class="c" x="2679.65" y="201.8" width="196" height="27"/><text class="t" x="2777.65" y="221.6">"gene_function"</text>
<rect class="c" x="2878.35" y="201.8" width="361" height="27"/><text class="t" x="3058.85" y="221.6">""</text>
<rect class="c" x="2679.65" y="231.1" width="196" height="27"/><text class="t" x="2777.65" y="250.9">"evidence_genefunction"</text>
<rect class="c" x="2878.35" y="231.1" width="361" height="27"/>
</g>

<g id="gene_lat" transform="translate(0,4468.45)">
<rect class="nb" x="2706.4" width="506.2" height="266" rx="25"/>
<text class="h" x="2959.5" y="20.5">PersistentArrayMap</text>
<rect class="c" x="2718.9" y="26" width="196" height="27"/><text class="t" x="2816.9" y="45.8">"gene_name"</text>
<rect class="c" x="2917.6" y="26" width="282.5" height="27"/><text class="t" x="3058.85" y="45.8">"lat"</text>
<rect class="c" x="2718.9" y="55.3" width="196" height="27"/><text class="t" x="2816.9" y="75.1">"not_in_gbk"</text>
<rect class="c" x="2917.6" y="55.3" width="282.5" height="27"/><text class="t" x="3058.85" y="75.1">false</text>
<rect class="c" x="2718.9" y="84.6" width="196" height="27"/><text class="t" x="2816.9" y="104.4">"gene_startpos"</text>
<rect class="c" x="2917.6" y="84.6" width="282.5" height="27"/><text class="t" x="3058.85" y="104.4">18796</text>
<rect class="c" x="2718.9" y="113.9" width="196" height="27"/><text class="t" x="2816.9" y="133.7">"gene_endpos"</text>
<rect class="c" x="2917.6" y="113.9" width="282.5" height="27"/><text class="t" x="3058.85" y="133.7">20169</text>
<rect class="c" x="2718.9" y="143.2" width="196" height="27"/><text class="t" x="2816.9" y="163">"gene_id"</text>
<rect class="c" x="2917.6" y="143.2" width="282.5" height="27"/><text class="t" x="3058.85" y="163">"EDY47117.1"</text>
<rect class="c" x="2718.9" y="172.5" width="196" height="27"/><text class="t" x="2816.9" y="192.3">"gene_annotation"</text>
<rect class="c" x="2917.6" y="172.5" width="282.5" height="27"/><text class="t" x="3058.85" y="192.3">"L-Lysine-epsilon aminotransferase"</text>
<rect class="c" x="2718.9" y="201.8" width="196" height="27"/><text class="t" x="2816.9" y="221.6">"gene_function"</text>
<rect class="c" x="2917.6" y="201.8" width="282.5" height="27"/><text class="t" x="3058.85" y="221.6">""</text>
<rect class="c" x="2718.9" y="231.1" width="196" height="27"/><text class="t" x="2816.9" y="250.9">"evidence_genefunction"</text>
<rect class="c" x="2917.6" y="231.1" width="282.5" height="27"/>
</g>

<g id="gene_pcbAB" transform="translate(0,4759.1)">
<rect class="nb" x="2586.65" width="745.7" height="266" rx="25"/>
<text class="h" x="2959.5" y="20.5">PersistentArrayMap</text>
<rect class="c" x="2599.15" y="26" width="196" height="27"/><text class="t" x="2697.15" y="45.8">"gene_name"</text>
<rect class="c" x="2797.85" y="26" width="522" height="27"/><text class="t" x="3058.85" y="45.8">"pcbAB"</text>
<rect class="c" x="2599.15" y="55.3" width="196" height="27"/><text class="t" x="2697.15" y="75.1">"not_in_gbk"</text>
<rect class="c" x="2797.85" y="55.3" width="522" height="27"/><text class="t" x="3058.85" y="75.1">false</text>
<rect class="c" x="2599.15" y="84.6" width="196" height="27"/><text class="t" x="2697.15" y="104.4">"gene_startpos"</text>
<rect class="c" x="2797.85" y="84.6" width="522" height="27"/><text class="t" x="3058.85" y="104.4">20406</text>
<rect class="c" x="2599.15" y="113.9" width="196" height="27"/><text class="t" x="2697.15" y="133.7">"gene_endpos"</text>
<rect class="c" x="2797.85" y="113.9" width="522" height="27"/><text class="t" x="3058.85" y="133.7">31667</text>
<rect class="c" x="2599.15" y="143.2" width="196" height="27"/><text class="t" x="2697.15" y="163">"gene_id"</text>
<rect class="c" x="2797.85" y="143.2" width="522" height="27"/><text class="t" x="3058.85" y="163">"EDY47118.1"</text>
<rect class="c" x="2599.15" y="172.5" width="196" height="27"/><text class="t" x="2697.15" y="192.3">"gene_annotation"</text>
<rect class="c" x="2797.85" y="172.5" width="522" height="27"/><text class="t" x="3058.85" y="192.3">"N-(5-Amino-5-carboxypentanoyl)-L-cysteinyl-D-valine synthetase"</text>
<rect class="c" x="2599.15" y="201.8" width="196" height="27"/><text class="t" x="2697.15" y="221.6">"gene_function"</text>
<rect class="c" x="2797.85" y="201.8" width="522" height="27"/><text class="t" x="3058.85" y="221.6">""</text>
<rect class="c" x="2599.15" y="231.1" width="196" height="27"/><text class="t" x="2697.15" y="250.9">"evidence_genefunction"</text>
<rect class="c" x="2797.85" y="231.1" width="522" height="27"/>
</g>

<g id="gene_pcbC" transform="translate(0,5049.75)">
<rect class="nb" x="2746.15" width="426.7" height="266" rx="25"/>
<text class="h" x="2959.5" y="20.5">PersistentArrayMap</text>
<rect class="c" x="2758.65" y="26" width="196" height="27"/><text class="t" x="2856.65" y="45.8">"gene_name"</text>
<rect class="c" x="2957.35" y="26" width="203" height="27"/><text class="t" x="3058.85" y="45.8">"pcbC"</text>
<rect class="c" x="2758.65" y="55.3" width="196" height="27"/><text class="t" x="2856.65" y="75.1">"not_in_gbk"</text>
<rect class="c" x="2957.35" y="55.3" width="203" height="27"/><text class="t" x="3058.85" y="75.1">false</text>
<rect class="c" x="2758.65" y="84.6" width="196" height="27"/><text class="t" x="2856.65" y="104.4">"gene_startpos"</text>
<rect class="c" x="2957.35" y="84.6" width="203" height="27"/><text class="t" x="3058.85" y="104.4">31699</text>
<rect class="c" x="2758.65" y="113.9" width="196" height="27"/><text class="t" x="2856.65" y="133.7">"gene_endpos"</text>
<rect class="c" x="2957.35" y="113.9" width="203" height="27"/><text class="t" x="3058.85" y="133.7">32688</text>
<rect class="c" x="2758.65" y="143.2" width="196" height="27"/><text class="t" x="2856.65" y="163">"gene_id"</text>
<rect class="c" x="2957.35" y="143.2" width="203" height="27"/><text class="t" x="3058.85" y="163">"EDY47119.1"</text>
<rect class="c" x="2758.65" y="172.5" width="196" height="27"/><text class="t" x="2856.65" y="192.3">"gene_annotation"</text>
<rect class="c" x="2957.35" y="172.5" width="203" height="27"/><text class="t" x="3058.85" y="192.3">"Isopenicillin N synthase"</text>
<rect class="c" x="2758.65" y="201.8" width="196" height="27"/><text class="t" x="2856.65" y="221.6">"gene_function"</text>
<rect class="c" x="2957.35" y="201.8" width="203" height="27"/><text class="t" x="3058.85" y="221.6">""</text>
<rect class="c" x="2758.65" y="231.1" width="196" height="27"/><text class="t" x="2856.65" y="250.9">"evidence_genefunction"</text>
<rect class="c" x="2957.35" y="231.1" width="203" height="27"/>
</g>

<g id="gene_pcbR" transform="translate(0,5340.4)">
<rect class="nb" x="2741.65" width="435.7" height="266" rx="25"/>
<text class="h" x="2959.5" y="20.5">PersistentArrayMap</text>
<rect class="c" x="2754.15" y="26" width="196" height="27"/><text class="t" x="2852.15" y="45.8">"gene_name"</text>
<rect class="c" x="2952.85" y="26" width="212" height="27"/><text class="t" x="3058.85" y="45.8">"pcbR"</text>
<rect class="c" x="2754.15" y="55.3" width="196" height="27"/><text class="t" x="2852.15" y="75.1">"not_in_gbk"</text>
<rect class="c" x="2952.85" y="55.3" width="212" height="27"/><text class="t" x="3058.85" y="75.1">false</text>
<rect class="c" x="2754.15" y="84.6" width="196" height="27"/><text class="t" x="2852.15" y="104.4">"gene_startpos"</text>
<rect class="c" x="2952.85" y="84.6" width="212" height="27"/><text class="t" x="3058.85" y="104.4">32797</text>
<rect class="c" x="2754.15" y="113.9" width="196" height="27"/><text class="t" x="2852.15" y="133.7">"gene_endpos"</text>
<rect class="c" x="2952.85" y="113.9" width="212" height="27"/><text class="t" x="3058.85" y="133.7">34452</text>
<rect class="c" x="2754.15" y="143.2" width="196" height="27"/><text class="t" x="2852.15" y="163">"gene_id"</text>
<rect class="c" x="2952.85" y="143.2" width="212" height="27"/><text class="t" x="3058.85" y="163">"EDY47121.1"</text>
<rect class="c" x="2754.15" y="172.5" width="196" height="27"/><text class="t" x="2852.15" y="192.3">"gene_annotation"</text>
<rect class="c" x="2952.85" y="172.5" width="212" height="27"/><text class="t" x="3058.85" y="192.3">"penicillin binding protein"</text>
<rect class="c" x="2754.15" y="201.8" width="196" height="27"/><text class="t" x="2852.15" y="221.6">"gene_function"</text>
<rect class="c" x="2952.85" y="201.8" width="212" height="27"/><text class="t" x="3058.85" y="221.6">""</text>
<rect class="c" x="2754.15" y="231.1" width="196" height="27"/><text class="t" x="2852.15" y="250.9">"evidence_genefunction"</text>
<rect class="c" x="2952.85" y="231.1" width="212" height="27"/>
</g>

<g id="evidence_bla" transform="translate(0,934.6)"><rect class="nb" x="3504" y="-31" width="100" height="61.7"/><text class="h" x="3554" y="-10.5">PersistentVector</text><rect class="c" x="3517.7" y="-4.3" width="74.3" height="26.3"/><text class="t" x="3554.85" y="15.2">""</text></g>
<g id="evidence_pbp74" transform="translate(0,1225.25)"><rect class="nb" x="3504" y="-31" width="100" height="61.7"/><text class="h" x="3554" y="-10.5">PersistentVector</text><rect class="c" x="3517.7" y="-4.3" width="74.3" height="26.3"/><text class="t" x="3554.85" y="15.2">""</text></g>
<g id="evidence_cmcT" transform="translate(0,1515.9)"><rect class="nb" x="3504" y="-31" width="100" height="61.7"/><text class="h" x="3554" y="-10.5">PersistentVector</text><rect class="c" x="3517.7" y="-4.3" width="74.3" height="26.3"/><text class="t" x="3554.85" y="15.2">""</text></g>
<g id="evidence_pcd" transform="translate(0,1806.55)"><rect class="nb" x="3504" y="-31" width="100" height="61.7"/><text class="h" x="3554" y="-10.5">PersistentVector</text><rect class="c" x="3517.7" y="-4.3" width="74.3" height="26.3"/><text class="t" x="3554.85" y="15.2">""</text></g>
<g id="evidence_cefE" transform="translate(0,2097.2)"><rect class="nb" x="3504" y="-31" width="100" height="61.7"/><text class="h" x="3554" y="-10.5">PersistentVector</text><rect class="c" x="3517.7" y="-4.3" width="74.3" height="26.3"/><text class="t" x="3554.85" y="15.2">""</text></g>
<g id="evidence_cefD" transform="translate(0,2387.85)"><rect class="nb" x="3504" y="-31" width="100" height="61.7"/><text class="h" x="3554" y="-10.5">PersistentVector</text><rect class="c" x="3517.7" y="-4.3" width="74.3" height="26.3"/><text class="t" x="3554.85" y="15.2">""</text></g>
<g id="evidence_cmcI" transform="translate(0,2678.5)"><rect class="nb" x="3504" y="-31" width="100" height="61.7"/><text class="h" x="3554" y="-10.5">PersistentVector</text><rect class="c" x="3517.7" y="-4.3" width="74.3" height="26.3"/><text class="t" x="3554.85" y="15.2">""</text></g>
<g id="evidence_cmcJ" transform="translate(0,2969.15)"><rect class="nb" x="3504" y="-31" width="100" height="61.7"/><text class="h" x="3554" y="-10.5">PersistentVector</text><rect class="c" x="3517.7" y="-4.3" width="74.3" height="26.3"/><text class="t" x="3554.85" y="15.2">""</text></g>
<g id="evidence_cefF" transform="translate(0,3259.8)"><rect class="nb" x="3504" y="-31" width="100" height="61.7"/><text class="h" x="3554" y="-10.5">PersistentVector</text><rect class="c" x="3517.7" y="-4.3" width="74.3" height="26.3"/><text class="t" x="3554.85" y="15.2">""</text></g>
<g id="evidence_cmcH" transform="translate(0,3550.45)"><rect class="nb" x="3504" y="-31" width="100" height="61.7"/><text class="h" x="3554" y="-10.5">PersistentVector</text><rect class="c" x="3517.7" y="-4.3" width="74.3" height="26.3"/><text class="t" x="3554.85" y="15.2">""</text></g>
<g id="evidence_ccaR" transform="translate(0,3841.1)"><rect class="nb" x="3504" y="-31" width="100" height="61.7"/><text class="h" x="3554" y="-10.5">PersistentVector</text><rect class="c" x="3517.7" y="-4.3" width="74.3" height="26.3"/><text class="t" x="3554.85" y="15.2">""</text></g>
<g id="evidence_unnamed" transform="translate(0,4131.75)"><rect class="nb" x="3504" y="-31" width="100" height="61.7"/><text class="h" x="3554" y="-10.5">PersistentVector</text><rect class="c" x="3517.7" y="-4.3" width="74.3" height="26.3"/><text class="t" x="3554.85" y="15.2">""</text></g>
<g id="evidence_blp" transform="translate(0,4422.4)"><rect class="nb" x="3504" y="-31" width="100" height="61.7"/><text class="h" x="3554" y="-10.5">PersistentVector</text><rect class="c" x="3517.7" y="-4.3" width="74.3" height="26.3"/><text class="t" x="3554.85" y="15.2">""</text></g>
<g id="evidence_lat" transform="translate(0,4713.05)"><rect class="nb" x="3504" y="-31" width="100" height="61.7"/><text class="h" x="3554" y="-10.5">PersistentVector</text><rect class="c" x="3517.7" y="-4.3" width="74.3" height="26.3"/><text class="t" x="3554.85" y="15.2">""</text></g>
<g id="evidence_pcbAB" transform="translate(0,5003.7)"><rect class="nb" x="3504" y="-31" width="100" height="61.7"/><text class="h" x="3554" y="-10.5">PersistentVector</text><rect class="c" x="3517.7" y="-4.3" width="74.3" height="26.3"/><text class="t" x="3554.85" y="15.2">""</text></g>
<g id="evidence_pcbC" transform="translate(0,5294.35)"><rect class="nb" x="3504" y="-31" width="100" height="61.7"/><text class="h" x="3554" y="-10.5">PersistentVector</text><rect class="c" x="3517.7" y="-4.3" width="74.3" height="26.3"/><text class="t" x="3554.85" y="15.2">""</text></g>
<g id="evidence_pcbR" transform="translate(0,5585)"><rect class="nb" x="3504" y="-31" width="100" height="61.7"/><text class="h" x="3554" y="-10.5">PersistentVector</text><rect class="c" x="3517.7" y="-4.3" width="74.3" height="26.3"/><text class="t" x="3554.85" y="15.2">""</text></g>

<g id="nrps_genes_list">
<rect class="nb" x="2035" y="4533" width="100" height="60.5"/>
<text class="h" x="2085" y="4553.5">PersistentVector</text>
<rect class="c" x="2048" y="4558" width="75" height="28"/>
</g>

<g id="nrps_gene">
<rect class="nb" x="2824" y="5631.2" width="271" height="90.3" rx="25"/>
<text class="h" x="2959.5" y="5651.7">PersistentArrayMap</text>
<rect class="c" x="2836.5" y="5657.2" width="121" height="27"/><text class="t" x="2897" y="5677">"nrps_gene"</text>
<rect class="c" x="2960.2" y="5657.2" width="122" height="27"/><text class="t" x="3021.2" y="5677">"EDY47118.1"</text>
<rect class="c" x="2836.5" y="5686.5" width="121" height="27"/><text class="t" x="2897" y="5706.3">"nrps_module"</text>
<rect class="c" x="2960.2" y="5686.5" width="122" height="27"/>
</g>

<g id="module_list">
<rect class="nb" x="3504" y="5640" width="99.5" height="120"/>
<text class="h" x="3554" y="5660.5">PersistentVector</text>
<rect class="c" x="3517" y="5667.5" width="74" height="26.5"/>
<rect class="c" x="3517" y="5696.8" width="74" height="26.5"/>
<rect class="c" x="3517" y="5726.1" width="74" height="26.5"/>
</g>

<g id="module0" transform="translate(0,5418)">
<rect class="nb" x="3775" width="279" height="177.5" rx="25"/>
<text class="h" x="3913.9" y="20.5">PersistentArrayMap</text>
<rect class="c" x="3786.8" y="26.3" width="172.9" height="27"/><text class="t" x="3873.25" y="46.1">"module_nr"</text>
<rect class="c" x="3962.5" y="26.3" width="78.5" height="27"/><text class="t" x="4001.75" y="46.1">"0"</text>
<rect class="c" x="3786.8" y="55.6" width="172.9" height="27"/><text class="t" x="3873.25" y="75.4">"a_substr_spec"</text>
<rect class="c" x="3962.5" y="55.6" width="78.5" height="27"/>
<rect class="c" x="3786.8" y="84.9" width="172.9" height="27"/><text class="t" x="3873.25" y="104.7">"cdom_subtype"</text>
<rect class="c" x="3962.5" y="84.9" width="78.5" height="27"/><text class="t" x="4001.75" y="104.7">"N/A"</text>
<rect class="c" x="3786.8" y="114.2" width="172.9" height="27"/><text class="t" x="3873.25" y="134">"nrps_mod_doms"</text>
<rect class="c" x="3962.5" y="114.2" width="78.5" height="27"/><text class="t" x="4001.75" y="134">"None"</text>
<rect class="c" x="3786.8" y="143.5" width="172.9" height="27"/><text class="t" x="3873.25" y="163.3">"nrps_mod_skip_iter"</text>
<rect class="c" x="3962.5" y="143.5" width="78.5" height="27"/><text class="t" x="4001.75" y="163.3">"Neither"</text>
</g>

<g id="module1" transform="translate(0,5620.7)">
<rect class="nb" x="3775" width="279" height="177.5" rx="25"/>
<text class="h" x="3913.9" y="20.5">PersistentArrayMap</text>
<rect class="c" x="3786.8" y="26.3" width="172.9" height="27"/><text class="t" x="3873.25" y="46.1">"module_nr"</text>
<rect class="c" x="3962.5" y="26.3" width="78.5" height="27"/><text class="t" x="4001.75" y="46.1">"1"</text>
<rect class="c" x="3786.8" y="55.6" width="172.9" height="27"/><text class="t" x="3873.25" y="75.4">"a_substr_spec"</text>
<rect class="c" x="3962.5" y="55.6" width="78.5" height="27"/>
<rect class="c" x="3786.8" y="84.9" width="172.9" height="27"/><text class="t" x="3873.25" y="104.7">"cdom_subtype"</text>
<rect class="c" x="3962.5" y="84.9" width="78.5" height="27"/><text class="t" x="4001.75" y="104.7">"DCL"</text>
<rect class="c" x="3786.8" y="114.2" width="172.9" height="27"/><text class="t" x="3873.25" y="134">"nrps_mod_doms"</text>
<rect class="c" x="3962.5" y="114.2" width="78.5" height="27"/><text class="t" x="4001.75" y="134">"None"</text>
<rect class="c" x="3786.8" y="143.5" width="172.9" height="27"/><text class="t" x="3873.25" y="163.3">"nrps_mod_skip_iter"</text>
<rect class="c" x="3962.5" y="143.5" width="78.5" height="27"/><text class="t" x="4001.75" y="163.3">"Neither"</text>
</g>

<g id="module2" transform="translate(0,5823.4)">
<rect class="nb" x="3775" width="279" height="177.5" rx="25"/>
<text class="h" x="3913.9" y="20.5">PersistentArrayMap</text>
<rect class="c" x="3786.8" y="26.3" width="172.9" height="27"/><text class="t" x="3873.25" y="46.1">"module_nr"</text>
<rect class="c" x="3962.5" y="26.3" width="78.5" height="27"/><text class="t" x="4001.75" y="46.1">"2"</text>
<rect class="c" x="3786.8" y="55.6" width="172.9" height="27"/><text class="t" x="3873.25" y="75.4">"a_substr_spec"</text>
<rect class="c" x="3962.5" y="55.6" width="78.5" height="27"/>
<rect class="c" x="3786.8" y="84.9" width="172.9" height="27"/><text class="t" x="3873.25" y="104.7">"cdom_subtype"</text>
<rect class="c" x="3962.5" y="84.9" width="78.5" height="27"/><text class="t" x="4001.75" y="104.7">"LCL"</text>
<rect class="c" x="3786.8" y="114.2" width="172.9" height="27"/><text class="t" x="3873.25" y="134">"nrps_mod_doms"</text>
<rect class="c" x="3962.5" y="114.2" width="78.5" height="27"/><text class="t" x="4001.75" y="134">"None"</text>
<rect class="c" x="3786.8" y="143.5" width="172.9" height="27"/><text class="t" x="3873.25" y="163.3">"nrps_mod_skip_iter"</text>
<rect class="c" x="3962.5" y="143.5" width="78.5" height="27"/><text class="t" x="4001.75" y="163.3">"Neither"</text>
</g>

<g id="substr0" transform="translate(0,5412.7)">
<rect class="nb" x="4103.5" width="379.5" height="148" rx="25"/>
<text class="h" x="4292.9" y="20.5">PersistentArrayMap</text>
<rect class="c" x="4115" y="26.2" width="174" height="27"/><text class="t" x="4202" y="46">"aa_type"</text>
<rect class="c" x="4291.7" y="26.2" width="179.1" height="27"/><text class="t" x="4381.25" y="46">"Nonproteinogenic"</text>
<rect class="c" x="4115" y="55.5" width="174" height="27"/><text class="t" x="4202" y="75.3">"nonprot_adom_spec"</text>
<rect class="c" x="4291.7" y="55.5" width="179.1" height="27"/><text class="t" x="4381.25" y="75.3">"2-Amino-adipic-acid"</text>
<rect class="c" x="4115" y="84.8" width="174" height="27"/><text class="t" x="4202" y="104.6">"evidence_a_spec"</text>
<rect class="c" x="4291.7" y="84.8" width="179.1" height="27"/><text class="t" x="4381.25" y="104.6">"Activity assay"</text>
<rect class="c" x="4115" y="114.1" width="174" height="27"/><text class="t" x="4202" y="133.9">"epimerized"</text>
<rect class="c" x="4291.7" y="114.1" width="179.1" height="27"/><text class="t" x="4381.25" y="133.9">false</text>
</g>

<g id="substr1" transform="translate(0,5615.6)">
<rect class="nb" x="4139.6" width="306.9" height="148" rx="25"/>
<text class="h" x="4294.1" y="20.5">PersistentArrayMap</text>
<rect class="c" x="4153.5" y="25.7" width="149.3" height="27"/><text class="t" x="4228.15" y="45.5">"aa_type"</text>
<rect class="c" x="4305.6" y="25.7" width="129.1" height="27"/><text class="t" x="4370.15" y="45.5">"Proteinogenic"</text>
<rect class="c" x="4153.5" y="55" width="149.3" height="27"/><text class="t" x="4228.15" y="74.8">"prot_adom_spec"</text>
<rect class="c" x="4305.6" y="55" width="129.1" height="27"/><text class="t" x="4370.15" y="74.8">"Cysteine"</text>
<rect class="c" x="4153.5" y="84.3" width="149.3" height="27"/><text class="t" x="4228.15" y="104.1">"evidence_a_spec"</text>
<rect class="c" x="4305.6" y="84.3" width="129.1" height="27"/><text class="t" x="4370.15" y="104.1">"Activity assay"</text>
<rect class="c" x="4153.5" y="113.6" width="149.3" height="27"/><text class="t" x="4228.15" y="133.4">"epimerized"</text>
<rect class="c" x="4305.6" y="113.6" width="129.1" height="27"/><text class="t" x="4370.15" y="133.4">false</text>
</g>

<g id="substr2" transform="translate(0,5818.5)">
<rect class="nb" x="4139.6" width="306.9" height="148" rx="25"/>
<text class="h" x="4294.1" y="20.5">PersistentArrayMap</text>
<rect class="c" x="4153.5" y="25.7" width="149.3" height="27"/><text class="t" x="4228.15" y="45.5">"aa_type"</text>
<rect class="c" x="4305.6" y="25.7" width="129.1" height="27"/><text class="t" x="4370.15" y="45.5">"Proteinogenic"</text>
<rect class="c" x="4153.5" y="55" width="149.3" height="27"/><text class="t" x="4228.15" y="74.8">"prot_adom_spec"</text>
<rect class="c" x="4305.6" y="55" width="129.1" height="27"/><text class="t" x="4370.15" y="74.8">"Valine"</text>
<rect class="c" x="4153.5" y="84.3" width="149.3" height="27"/><text class="t" x="4228.15" y="104.1">"evidence_a_spec"</text>
<rect class="c" x="4305.6" y="84.3" width="129.1" height="27"/><text class="t" x="4370.15" y="104.1">"Activity assay"</text>
<rect class="c" x="4153.5" y="113.6" width="149.3" height="27"/><text class="t" x="4228.15" y="133.4">"epimerized"</text>
<rect class="c" x="4305.6" y="113.6" width="129.1" height="27"/><text class="t" x="4370.15" y="133.4">true</text>
</g>

</g>
</svg>
